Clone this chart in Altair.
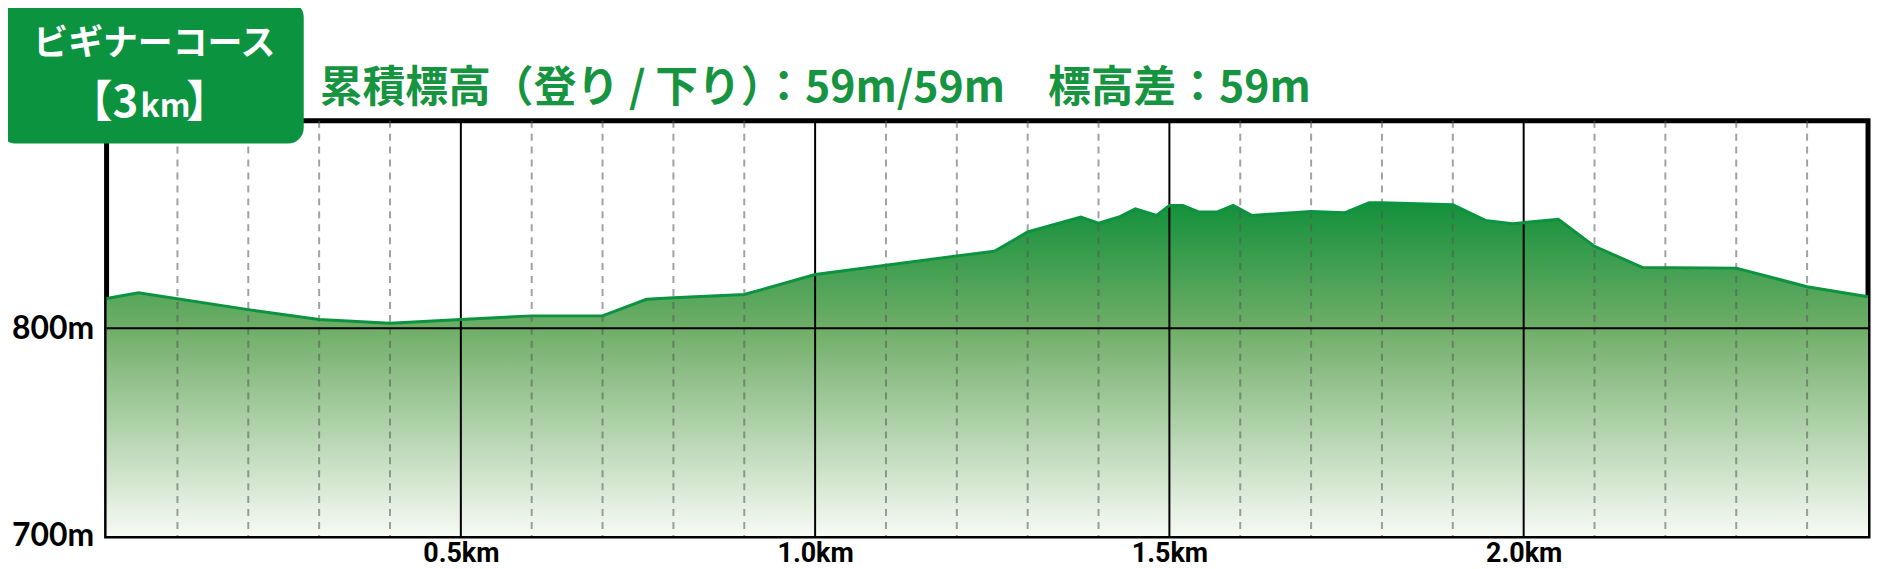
import altair as alt
import pandas as pd

# ---- data ----
dist_km = [0, 0.045, 0.2, 0.3, 0.4, 0.5, 0.6, 0.7, 0.762, 0.8, 0.9, 1.0, 1.1, 1.2,
           1.253, 1.3, 1.375, 1.4, 1.429, 1.452, 1.482, 1.5, 1.519, 1.542, 1.567,
           1.59, 1.616, 1.7, 1.748, 1.782, 1.8, 1.9, 1.946, 1.984, 2.0, 2.049, 2.1,
           2.168, 2.3, 2.4, 2.486]
elev_m = [814.4, 817.1, 809, 804.3, 802.4, 804.3, 806, 806, 814, 814.7, 816.3, 825.9,
          830.4, 834.9, 837.1, 846.4, 853.6, 850.7, 853.6, 857.6, 854.4, 859.2, 859.2,
          856, 856, 859.2, 854.4, 856.3, 855.7, 860.5, 860.5, 859.5, 852, 850.4, 850.9,
          852.5, 839.5, 829.3, 829, 820, 815.2]

major_km = [0.5, 1.0, 1.5, 2.0]
minor_km = [0.1, 0.2, 0.3, 0.4, 0.6, 0.7, 0.8, 0.9, 1.1, 1.2, 1.3, 1.4,
            1.6, 1.7, 1.8, 1.9, 2.1, 2.2, 2.3, 2.4]
y_labels_m = [700, 800]
ref_elev = [800]

course_name = ["ビギナーコース"]
course_len_a = ["【3"]
course_len_b = ["km"]
course_len_c = ["】"]
subtitle = ["累積標高（登り / 下り）：59m/59m\u3000標高差：59m"]

X_DOMAIN = [0, 2.486]
Y_DOMAIN = [700, 900]
GREEN = "#0b9340"

xs = alt.Scale(domain=X_DOMAIN, nice=False, zero=False)
ys = alt.Scale(domain=Y_DOMAIN, nice=False, zero=False)

x_axis = alt.Axis(values=major_km, labelExpr="format(datum.value, '.1f') + 'km'",
                  grid=False, ticks=False, domain=False, title=None,
                  labelFont="Liberation Sans Narrow, Roboto, sans-serif",
                  labelFontSize=27, labelFontWeight="bold", labelColor="black",
                  labelBaseline="middle", labelPadding=18)
y_axis = alt.Axis(values=y_labels_m, labelExpr="datum.value + 'm'",
                  grid=False, ticks=False, domain=False, title=None,
                  labelFont="Lato, sans-serif", labelFontSize=32,
                  labelFontWeight="bold", labelColor="black", labelPadding=13)

profile = pd.DataFrame({"d": dist_km, "e": elev_m})

gradient = alt.Gradient(
    gradient="linear", x1=0, x2=0, y1=0, y2=1,
    stops=[alt.GradientStop(color="#13903b", offset=0),
           alt.GradientStop(color="#70ae68", offset=0.38),
           alt.GradientStop(color="#f7faf5", offset=1)])

area = alt.Chart(profile).mark_area(color=gradient).encode(
    x=alt.X("d:Q", scale=xs, axis=x_axis),
    y=alt.Y("e:Q", scale=ys, axis=y_axis),
    y2=alt.datum(Y_DOMAIN[0]),
)

minor = alt.Chart(pd.DataFrame({"d": minor_km})).mark_rule(
    color="#555555", opacity=0.55, strokeWidth=2, strokeDash=[7, 6]).encode(
    x=alt.X("d:Q", scale=xs, axis=x_axis))

major = alt.Chart(pd.DataFrame({"d": major_km})).mark_rule(
    color="black", strokeWidth=2).encode(x=alt.X("d:Q", scale=xs, axis=x_axis))

hline = alt.Chart(pd.DataFrame({"e": ref_elev})).mark_rule(
    color="black", strokeWidth=2).encode(y=alt.Y("e:Q", scale=ys, axis=y_axis))

line = alt.Chart(profile).mark_line(color=GREEN, strokeWidth=3).encode(
    x=alt.X("d:Q", scale=xs, axis=x_axis), y=alt.Y("e:Q", scale=ys, axis=y_axis))

one = pd.DataFrame({"k": [0]})
box = alt.Chart(one).mark_rect(color=GREEN, cornerRadius=16).encode(
    x=alt.value(-107), x2=alt.value(198), y=alt.value(-120), y2=alt.value(23))

cjk = "Noto Sans CJK JP"
t1 = alt.Chart(pd.DataFrame({"t": course_name})).mark_text(
    font=cjk, fontSize=35, fontWeight="bold", color="white", align="center",
    baseline="middle").encode(text="t:N", x=alt.value(48), y=alt.value(-77))
t2 = alt.Chart(pd.DataFrame({"t": course_len_a})).mark_text(
    font=cjk, fontSize=44, fontWeight="bold", color="white", align="right",
    baseline="alphabetic").encode(text="t:N", x=alt.value(32), y=alt.value(-4))
t3 = alt.Chart(pd.DataFrame({"t": course_len_b})).mark_text(
    font=cjk, fontSize=32, fontWeight="bold", color="white", align="left",
    baseline="alphabetic").encode(text="t:N", x=alt.value(34), y=alt.value(-4))
t4 = alt.Chart(pd.DataFrame({"t": course_len_c})).mark_text(
    font=cjk, fontSize=44, fontWeight="bold", color="white", align="left",
    baseline="alphabetic").encode(text="t:N", x=alt.value(80), y=alt.value(-4))
sub = alt.Chart(pd.DataFrame({"t": subtitle})).mark_text(
    font=cjk, fontSize=43, fontWeight="bold", color="#16943f", align="left",
    baseline="middle").encode(text="t:N", x=alt.value(214), y=alt.value(-32))

chart = alt.layer(area, minor, major, hline, line, box, t1, t2, t3, t4, sub).properties(
    width=1769, height=417,
    autosize=alt.AutoSizeParams(type="none"),
    padding={"left": 99, "top": 112, "right": 4, "bottom": 32},
).configure_view(stroke="black", strokeWidth=5)

chart.save("out.html", embed_options={"renderer": "svg", "actions": False})
